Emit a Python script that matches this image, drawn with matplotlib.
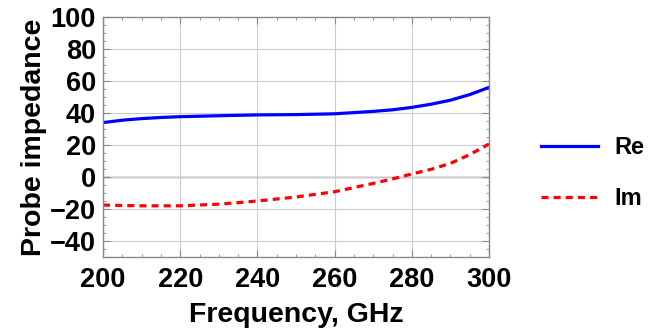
import numpy as np
import matplotlib
matplotlib.use("Agg")
import matplotlib.pyplot as plt
from matplotlib.ticker import MultipleLocator

# data
freq = [200, 205, 210, 215, 220, 230, 240, 250, 260, 270, 275, 280, 285, 290, 295, 300]
re_z = [34.0, 35.5, 36.5, 37.2, 37.7, 38.3, 38.8, 39.0, 39.5, 41.0, 42.0, 43.5, 45.5, 48.0, 51.5, 56.0]
im_z = [-17.5, -17.8, -18.0, -18.0, -18.0, -17.0, -15.0, -12.5, -9.2, -4.0, -1.2, 1.9, 4.8, 8.5, 14.0, 20.6]
ytick_vals = [-40, -20, 0, 20, 40, 60, 80, 100]
ytick_labels = ["\u221240", "\u221220", "0", "20", "40", "60", "80", "100"]

plt.rcParams['font.family'] = ['Liberation Sans', 'DejaVu Sans']
plt.rcParams['font.weight'] = 'bold'

fig = plt.figure(figsize=(6.59, 3.36), dpi=100)
ax = fig.add_axes([103 / 659, 1 - 257 / 336, (489 - 103) / 659, (257 - 17) / 336])

ax.plot(freq, re_z, color="#0000ff", lw=2.3, label="Re")
ax.plot(freq, im_z, color="#ff0000", lw=2.3, ls=(0, (2.2, 1.6)), label="Im")

ax.set_xlim(200, 300)
ax.set_ylim(-50, 100)
ax.xaxis.set_major_locator(MultipleLocator(20))
ax.xaxis.set_minor_locator(MultipleLocator(5))
ax.yaxis.set_minor_locator(MultipleLocator(5))
ax.set_yticks(ytick_vals)
ax.set_yticklabels(ytick_labels)
ax.tick_params(which="both", direction="in", top=True, right=True, color="#888888")
ax.tick_params(which="major", length=5, width=0.8, labelsize=19.5)
ax.tick_params(axis="x", which="major", pad=7)
ax.tick_params(axis="y", which="major", pad=5)
ax.tick_params(which="minor", length=2.5, width=0.6)
ax.grid(True, which="major", color="#cccccc", lw=0.8)
ax.axhline(0, color="#777777", lw=1.0, zorder=1)
for s in ax.spines.values():
    s.set_color("#888888")
    s.set_linewidth(1.0)
for lab in ax.get_xticklabels() + ax.get_yticklabels():
    lab.set_fontweight("bold")

ax.set_xlabel("Frequency, GHz", fontsize=20.5, fontweight="bold", labelpad=7)
ax.set_ylabel("Probe impedance", fontsize=20.5, fontweight="bold", labelpad=2)

leg = ax.legend(loc="center left", bbox_to_anchor=(1.08, 0.35), frameon=False,
                fontsize=17, handlelength=2.4, handletextpad=0.7, labelspacing=1.2)
for t in leg.get_texts():
    t.set_fontweight("bold")

fig.savefig("out.png", dpi=100)
